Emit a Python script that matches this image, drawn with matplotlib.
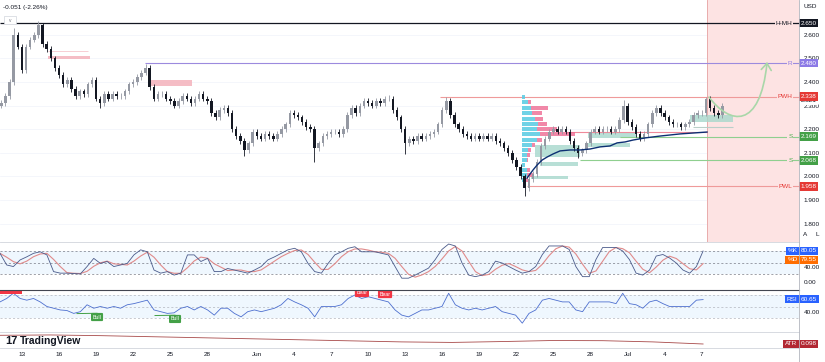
import numpy as np
import matplotlib.pyplot as plt
import matplotlib.transforms as mtransforms
from matplotlib.patches import Rectangle, FancyArrowPatch
from matplotlib.path import Path
from matplotlib.lines import Line2D

plt.rcParams['font.family'] = ['Liberation Sans', 'DejaVu Sans']

W, H = 825, 362

# ---------------- data ----------------
# 8h candles, day 0 = May 13
first_open = 2.30
closes = [2.31, 2.34, 2.40, 2.60, 2.55, 2.45, 2.55, 2.58, 2.60, 2.64,
          2.56, 2.54, 2.50, 2.46, 2.43, 2.39, 2.41, 2.37, 2.34, 2.36,
          2.35, 2.39, 2.41, 2.33, 2.31, 2.35, 2.33, 2.35, 2.34, 2.34,
          2.36, 2.39, 2.40, 2.42, 2.44, 2.46, 2.38, 2.33, 2.35, 2.35,
          2.33, 2.32, 2.30, 2.32, 2.34, 2.33, 2.31, 2.33, 2.35, 2.33,
          2.32, 2.27, 2.25, 2.28, 2.29, 2.27, 2.20, 2.17, 2.15, 2.11,
          2.14, 2.19, 2.17, 2.16, 2.18, 2.17, 2.16, 2.18, 2.20, 2.22,
          2.27, 2.26, 2.25, 2.23, 2.21, 2.20, 2.12, 2.14, 2.17, 2.18,
          2.19, 2.19, 2.18, 2.20, 2.26, 2.29, 2.27, 2.30, 2.32, 2.31,
          2.30, 2.32, 2.31, 2.33, 2.33, 2.28, 2.25, 2.20, 2.14, 2.16,
          2.15, 2.17, 2.16, 2.17, 2.18, 2.19, 2.22, 2.28, 2.32, 2.26,
          2.22, 2.20, 2.18, 2.17, 2.16, 2.17, 2.16, 2.17, 2.16, 2.17,
          2.15, 2.14, 2.12, 2.10, 2.07, 2.04, 2.00, 1.95, 1.99, 2.01,
          2.06, 2.13, 2.16, 2.19, 2.20, 2.19, 2.20, 2.19, 2.15, 2.12,
          2.10, 2.11, 2.14, 2.19, 2.20, 2.19, 2.20, 2.20, 2.19, 2.20,
          2.24, 2.30, 2.23, 2.21, 2.18, 2.16, 2.18, 2.22, 2.27, 2.29,
          2.27, 2.25, 2.23, 2.22, 2.22, 2.21, 2.22, 2.23, 2.26, 2.27,
          2.27, 2.33, 2.29, 2.27, 2.26, 2.30]
spike_hi = {3: 2.63, 9: 2.66, 35: 2.475, 94: 2.345, 108: 2.338, 151: 2.322, 171: 2.338}
spike_lo = {24: 2.29, 59: 2.085, 76: 2.06, 98: 2.095, 127: 1.915, 140: 2.08}

# key levels
lvl_price = [2.650, 2.480, 2.338, 2.169, 2.068, 1.958]
lvl_tag = ['H-MH', 'R', 'PWH', 'S', 'S', 'PWL']
lvl_from = [-1.78, 9.95, 33.82, 48.38, 45.15, 40.86]

# supply / demand zones (day0, day1, low, high)
ob_zones = [(2.10, 5.50, 2.497, 2.510), (10.19, 13.75, 2.383, 2.408)]
fvg_zones = [(41.50, 45.15, 2.083, 2.133), (41.91, 44.98, 2.044, 2.061),
             (41.18, 44.17, 1.989, 2.002), (45.79, 49.76, 2.163, 2.184),
             (45.79, 49.19, 2.125, 2.142), (54.05, 57.52, 2.230, 2.260)]

# volume profile
vp_price = [2.336, 2.315, 2.290, 2.269, 2.243, 2.222, 2.201, 2.180, 2.154,
            2.133, 2.112, 2.091, 2.070, 2.048, 2.027, 2.006, 1.985]
vp_up = [3, 6, 9, 10, 13, 16, 15, 18, 15, 10, 6, 5, 5, 3, 5, 5, 3]
vp_down = [0, 3, 17, 10, 8, 9, 20, 35, 5, 3, 3, 3, 1, 0, 3, 6, 3]

# anchored vwap
vwap_day = [40.86, 41.34, 41.67, 42.07, 42.48, 42.96, 43.53, 44.34, 45.15, 45.95,
            46.76, 47.57, 48.14, 48.79, 49.43, 50.40, 51.62, 53.24, 55.42]
vwap_val = [1.993, 2.027, 2.048, 2.069, 2.082, 2.095, 2.108, 2.112, 2.112, 2.116,
            2.125, 2.129, 2.142, 2.146, 2.154, 2.163, 2.171, 2.180, 2.188]

stoch_k = [74, 44, 40, 57, 65, 74, 78, 70, 27, 23, 23, 22, 21, 40, 61, 48, 53, 40, 44, 48,
           70, 83, 78, 31, 23, 27, 18, 23, 70, 70, 53, 61, 27, 27, 35, 31, 27, 23, 31, 40,
           57, 65, 74, 83, 87, 78, 48, 27, 23, 48, 70, 78, 87, 91, 78, 78, 78, 74, 70, 40,
           10, 10, 18, 27,
           36, 58, 84, 98, 93, 49, 18, 14, 18, 27, 54, 49, 40, 31, 23, 27, 40, 71, 93, 93,
           93, 84, 40, 14, 14, 58, 89, 89, 89, 80, 58, 23, 18, 31, 67, 71, 62, 49, 31, 23,
           40, 80]
rsi = [58, 64, 73, 64, 61, 64, 58, 50, 47, 44, 43, 38, 41, 53, 47, 50, 47, 50, 47, 53,
       55, 58, 61, 44, 41, 38, 39, 47, 50, 44, 50, 44, 35, 47, 47, 38, 32, 41, 44, 41,
       44, 47, 53, 64, 58, 53, 47, 32, 50, 50, 50, 53, 64, 70, 64, 67, 64, 61, 58, 44,
       35, 32, 38, 44,
       44, 47, 50, 73, 53, 47, 44, 47, 44, 47, 50, 41, 38, 35, 21, 38, 44, 61, 64, 61,
       58, 58, 44, 41, 58, 58, 58, 58, 55, 73, 55, 53, 47, 58, 61, 55, 50, 50, 50, 50,
       61, 62]
atr = [0.148, 0.150, 0.146, 0.140, 0.134, 0.128, 0.122, 0.116, 0.110, 0.107,
       0.112, 0.118, 0.117, 0.110, 0.098]

div_day = [6.07, 12.38, 27.5, 29.37]
div_rsi = [31.7, 28.3, 73.5, 71.7]
div_kind = ['Bull', 'Bull', 'Bear', 'Bear']

price_ticks = [2.600, 2.500, 2.400, 2.300, 2.200, 2.100, 2.000, 1.900, 1.800]
xt_days = [0, 3, 6, 9, 12, 15, 19, 22, 25, 28, 31, 34, 37, 40, 43, 46, 49, 52, 55]
xt_lab = ['13', '16', '19', '22', '25', '28', 'Jun', '4', '7', '10', '13', '16',
          '19', '22', '25', '28', 'Jul', '4', '7']

# ---------------- layout ----------------
fs = 4.6
X0, X1 = -1.78, 62.86
OSC_END = 55.1
ZONE = 55.42
TXT = '#131722'

fig = plt.figure(figsize=(W / 100, H / 100), dpi=100)


def pane(top, bot):
    a = fig.add_axes([0, 1 - bot / H, 799 / W, (bot - top) / H])
    a.set_xlim(X0, X1)
    a.set_xticks([])
    a.set_yticks([])
    for s in a.spines.values():
        s.set_visible(False)
    return a


ax = pane(0, 242)
ax_st = pane(242, 290)
ax_rsi = pane(290, 332)
ax_atr = pane(332, 348)
ax.set_ylim(1.722, 2.7475)
ax_st.set_ylim(-20.4, 103.2)
ax_rsi.set_ylim(5.65, 78.7)
ax_atr.set_ylim(0.0749, 0.167)


def blend(a):
    return mtransforms.blended_transform_factory(a.transAxes, a.transData)


def box(a, y, s, fc, tc='white', x=800.5, ha='left', z=10):
    a.text(x / 799, y, s, transform=blend(a), ha=ha, va='center', fontsize=fs,
           color=tc, clip_on=False, zorder=z,
           bbox=dict(boxstyle='square,pad=0.28', fc=fc, ec='none'))


def figline(x0, y0, x1, y1, c, lw=0.6):
    fig.add_artist(Line2D([x0 / W, x1 / W], [1 - y0 / H, 1 - y1 / H],
                          transform=fig.transFigure, color=c, lw=lw))


# ---------------- main pane ----------------
for p in price_ticks:
    ax.axhline(p, color='#f0f3fa', lw=0.5, zorder=0)
ax.yaxis.tick_right()
ax.set_yticks(price_ticks, [f'{p:.3f}' for p in price_ticks])
ax.tick_params(axis='y', length=0, pad=3.2, labelsize=fs, labelcolor=TXT)

ax.axvspan(ZONE, X1, color='#fde3e3', zorder=0.5, lw=0)
ax.axvline(ZONE, color='#e6a3a3', lw=0.6, zorder=0.6)

lvl_col = ['#131722', '#9c8ade', '#ef9a9a', '#8fcf8f', '#8fcf8f', '#ef9a9a']
lvl_txt = ['#131722', '#8c7ae6', '#e53935', '#4caf50', '#4caf50', '#e53935']
lvl_box = ['#131722', '#8c7ae6', '#e53935', '#43a047', '#43a047', '#e53935']
for p, tg, x0, lc, tc, bc in zip(lvl_price, lvl_tag, lvl_from, lvl_col, lvl_txt, lvl_box):
    ax.hlines(p, x0, X1, color=lc, lw=0.9 if p == 2.650 else 0.8, zorder=2)
    ax.text(792.5 / 799, p, tg, transform=blend(ax), ha='right', va='center',
            fontsize=fs, color=tc, zorder=4,
            bbox=dict(boxstyle='square,pad=0.15', fc='#fde3e3', ec='none'))
    box(ax, p, f'{p:.3f}', bc)
box(ax, 2.321, '2.321', 'white', tc=TXT, z=9)

for d0, d1, lo_, hi_ in ob_zones:
    ax.add_patch(Rectangle((d0, lo_), d1 - d0, hi_ - lo_, fc='#f4b6bf', ec='none', alpha=0.9, zorder=1))
ax.hlines(2.531, 2.10, 5.34, color='#f6c6cc', lw=0.6, zorder=1)

for d0, d1, lo_, hi_ in fvg_zones:
    ax.add_patch(Rectangle((d0, lo_), d1 - d0, hi_ - lo_, fc='#a7d8cc', ec='none', alpha=0.8, zorder=1))
ax.hlines(2.209, 54.29, 57.52, color='#b9cfc9', lw=0.8, zorder=1)
ax.hlines(2.189, 44.09, ZONE, color='#ef8a9a', lw=0.8, zorder=1.5)

# volume profile
vp_x0, unit = 40.45, 1 / 12.36
for p, u, dn in zip(vp_price, vp_up, vp_down):
    ax.barh(p, u * unit, left=vp_x0, height=0.018, color='#5fcde4', alpha=0.9, zorder=2.2, lw=0)
    if dn:
        ax.barh(p, dn * unit, left=vp_x0 + u * unit, height=0.018, color='#ee6b92',
                alpha=0.8, zorder=2.2, lw=0)

# candles
opens = np.array([first_open] + closes[:-1])
cl = np.array(closes)
t = -1.67 + np.arange(len(cl)) / 3
hi = np.maximum(opens, cl) + 0.012
lo = np.minimum(opens, cl) - 0.012
for i, v in spike_hi.items():
    hi[i] = v
for i, v in spike_lo.items():
    lo[i] = v
up = cl >= opens
cols = np.where(up, '#9599a3', '#131722')
ax.vlines(t, lo, hi, colors=cols, lw=0.6, zorder=3)
ax.bar(t, cl - opens, bottom=opens, width=0.2, color=cols, lw=0, zorder=3)

ax.plot(vwap_day, vwap_val, color='#0d2f73', lw=1.0, zorder=3.5)

# projected path arrow
verts = [(55.58, 2.336), (57.28, 2.218), (59.71, 2.197), (60.28, 2.485)]
arc = Path(verts, [Path.MOVETO, Path.CURVE4, Path.CURVE4, Path.CURVE4])
ax.add_patch(FancyArrowPatch(path=arc, arrowstyle='->,head_length=0.6,head_width=0.45',
                             mutation_scale=8, color='#a9d7a9', lw=1.2, zorder=4))

# ---------------- stochastic ----------------
osc_t = np.linspace(X0, OSC_END, len(stoch_k))
k = np.array(stoch_k, float)
d = np.convolve(np.r_[k[0], k[0], k], np.ones(3) / 3, mode='valid')
ax_st.axhspan(20, 80, color='#2196f3', alpha=0.07, lw=0)
for lv in (80, 50, 20):
    ax_st.axhline(lv, color='#787b86', lw=0.5, ls=(0, (3, 3)))
ax_st.plot(osc_t, d, color='#e08a8a', lw=0.8)
ax_st.plot(osc_t, k, color='#4a5a8a', lw=0.6)
ax_st.yaxis.tick_right()
ax_st.set_yticks([40, 0], ['40.00', '0.00'])
ax_st.tick_params(axis='y', length=0, pad=3.2, labelsize=fs, labelcolor=TXT)
box(ax_st, 80.05, '%K', '#2962ff', x=797.5, ha='right')
box(ax_st, 80.05, '80.05', '#2962ff')
box(ax_st, 57, '%D', '#ff6d00', x=797.5, ha='right')
box(ax_st, 57, '79.55', '#ff6d00')

# ---------------- RSI ----------------
ax_rsi.axhspan(30, 70, color='#2196f3', alpha=0.07, lw=0)
for lv in (70, 50, 30):
    ax_rsi.axhline(lv, color='#b2b5be', lw=0.5, ls=(0, (3, 3)))
ax_rsi.plot(np.linspace(X0, OSC_END, len(rsi)), rsi, color='#4d6fcf', lw=0.6)
ax_rsi.yaxis.tick_right()
ax_rsi.set_yticks([40], ['40.00'])
ax_rsi.tick_params(axis='y', length=0, pad=3.2, labelsize=fs, labelcolor=TXT)
box(ax_rsi, 63, 'RSI', '#2962ff', x=797.5, ha='right')
box(ax_rsi, 63, '60.65', '#2962ff')
# label that sits half off the left edge in the source
ax_rsi.add_patch(Rectangle((X0, 72.0), 1.8, 6.7, fc='#f23645', ec='none', zorder=6))
for dd, rv, kind in zip(div_day, div_rsi, div_kind):
    fc = '#43a047' if kind == 'Bull' else '#f23645'
    if kind == 'Bull':
        ax_rsi.plot([dd - 1.62, dd], [rv + 6, rv + 6.5], color='#43a047', lw=0.7)
    ax_rsi.text(dd, rv, kind, ha='center', va='center', fontsize=3.8, color='white',
                clip_on=True, zorder=5,
                bbox=dict(boxstyle='round,pad=0.3,rounding_size=0.2', fc=fc, ec='none'))

# ---------------- ATR ----------------
ax_atr.plot(np.linspace(X0, OSC_END, len(atr)), atr, color='#a84a4a', lw=0.6)
box(ax_atr, 0.098, 'ATR', '#b22833', x=797.5, ha='right')
box(ax_atr, 0.098, '0.098', '#b22833')
ax_atr.set_xticks(xt_days, xt_lab)
ax_atr.tick_params(axis='x', length=0, pad=3.0, labelsize=fs, labelcolor=TXT)

# ---------------- frame & header ----------------
figline(0, 242, 799, 242, '#d1d4dc')
figline(0, 290, 799, 290, '#434651', 0.8)
figline(0, 332, 799, 332, '#d1d4dc')
figline(0, 348, 799, 348, '#d1d4dc')
figline(799, 0, 799, 362, '#b2b5be')

fig.text(3 / W, 1 - 8 / H, '-0.051 (-2.26%)', fontsize=fs, color=TXT, va='center')
fig.add_artist(Rectangle((4 / W, 1 - 24 / H), 12 / W, 8 / H, transform=fig.transFigure,
                         fc='white', ec='#d1d4dc', lw=0.5))
fig.text(10 / W, 1 - 20 / H, 'v', fontsize=3.5, color='#787b86', ha='center', va='center')
fig.text(803 / W, 1 - 7 / H, 'USD', fontsize=fs, color=TXT, va='center')
fig.text(805 / W, 1 - 235 / H, 'A', fontsize=fs, color=TXT, ha='center', va='center')
fig.text(817 / W, 1 - 235 / H, 'L', fontsize=fs, color=TXT, ha='center', va='center')
fig.text(5 / W, 1 - 341 / H, '17', fontsize=8, color=TXT, fontweight='heavy', va='center')
fig.text(20 / W, 1 - 341 / H, 'TradingView', fontsize=7.5, color=TXT, fontweight='bold', va='center')

fig.savefig('out.png', dpi=100, facecolor='white')
